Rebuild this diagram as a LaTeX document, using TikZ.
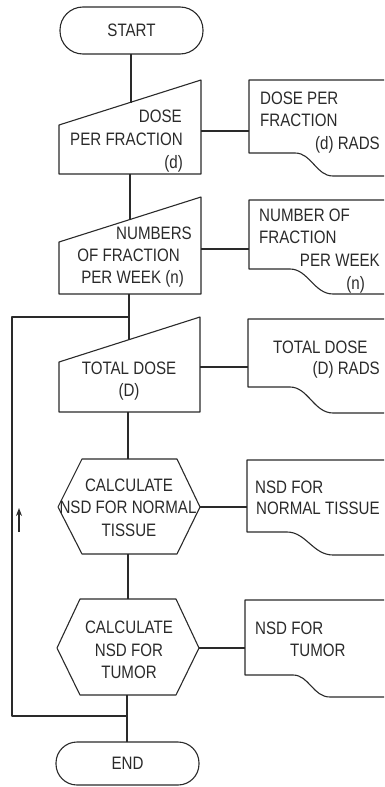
\documentclass[tikz,border=0pt]{standalone}
\usepackage{fontspec}
\setmainfont{Liberation Sans}[FakeStretch=0.84]
\usetikzlibrary{arrows.meta}
\definecolor{ink}{HTML}{2A2A2A}
\begin{document}
\begin{tikzpicture}[x=1pt,y=-1pt,
  ln/.style={line width=1.1pt, draw=ink, line join=round},
  txt/.style={font=\fontsize{18}{23}\selectfont, text=ink, inner sep=0pt},
  term/.style={ln, txt, rectangle, inner sep=0pt}]
\useasboundingbox (0,0) rectangle (384,787);

% terminators
\node[term, minimum width=143pt, minimum height=47pt, rounded corners=23pt] (start) at (131.5,30.5) {START};
\node[term, minimum width=143pt, minimum height=43pt, rounded corners=21pt] (end) at (127.5,763.5) {END};

% manual input shapes
\draw[ln] (59,125) -- (201,80) -- (201,174) -- (59,174) -- cycle;
\draw[ln] (59,242) -- (201,197) -- (201,294) -- (59,294) -- cycle;
\draw[ln] (59,362) -- (200,317) -- (200,412) -- (59,412) -- cycle;

% hexagons
\draw[ln] (58,507) -- (82,459) -- (177,459) -- (200,507) coordinate (h1r) -- (177,554) -- (82,554) -- cycle;
\draw[ln] (57,648) -- (80,599) -- (176,599) -- (199,648) coordinate (h2r) -- (176,695) -- (80,695) -- cycle;

% documents (right edge cut off)
\draw[ln] (384,80) -- (249,80) -- (249,153) -- (295,153) .. controls (312,153) and (316,176) .. (333,176) -- (384,176);
\draw[ln] (384,200) -- (249,200) -- (249,269) -- (290,269) .. controls (308,269) and (314,294) .. (333,294) -- (384,294);
\draw[ln] (384,319) -- (248,319) -- (248,387) -- (290,387) .. controls (308,387) and (314,413) .. (333,413) -- (384,413);
\draw[ln] (384,460) -- (247,460) -- (247,532) -- (287,532) .. controls (306,532) and (313,555) .. (333,555) -- (384,555);
\draw[ln] (384,600) -- (245,600) -- (245,675) -- (293,675) .. controls (309,675) and (313,697) .. (330,697) -- (384,697);

% connection points
\coordinate (s1) at (131,54);   \coordinate (t1top) at (131,102.5);
\coordinate (t1b) at (130,174); \coordinate (t2top) at (130,219.5);
\coordinate (t2b) at (129,294); \coordinate (t3top) at (129,339.5);
\coordinate (t3b) at (128,412); \coordinate (h1t) at (128,459);
\coordinate (h1b) at (128,554); \coordinate (h2t) at (128,599);
\coordinate (h2b) at (127,695); \coordinate (e1) at (127,742);
\coordinate (loopA) at (129,317); \coordinate (loopB) at (12,317);
\coordinate (loopC) at (12,716); \coordinate (loopD) at (127,716);
\coordinate (t1r) at (201,131) ; \coordinate (d1l) at (249,131);
\coordinate (t2r) at (201,249) ; \coordinate (d2l) at (249,249);
\coordinate (t3r) at (200,367) ; \coordinate (d3l) at (248,367);
\coordinate (d4l) at (247,507);
\coordinate (d5l) at (245,648);
\coordinate (arrA) at (19,532); \coordinate (arrB) at (19,508);

% vertical flow
\draw[ln] (s1) -- (t1top);
\draw[ln] (t1b) -- (t2top);
\draw[ln] (t2b) -- (t3top);
\draw[ln] (t3b) -- (h1t);
\draw[ln] (h1b) -- (h2t);
\draw[ln] (h2b) -- (e1);
% loop
\draw[ln] (loopD) -- (loopC) -- (loopB) -- (loopA);
\draw[ln, line width=1.3pt, -{Stealth[length=8pt,width=6pt]}] (arrA) -- (arrB);
% horizontal connectors
\draw[ln] (t1r) -- (d1l);
\draw[ln] (t2r) -- (d2l);
\draw[ln] (t3r) -- (d3l);
\draw[ln] (h1r) -- (d4l);
\draw[ln] (h2r) -- (d5l);

% texts: manual input 1
\node[txt, anchor=base east] (a1) at (182,122) {DOSE};
\node[txt, anchor=base east] (a2) at (183,145) {PER FRACTION};
\node[txt, anchor=base east] (a3) at (183,168) {(d)};
\node[txt, anchor=base west] (b1) at (260,104.5) {DOSE PER};
\node[txt, anchor=base west] (b2) at (260,126.5) {FRACTION};
\node[txt, anchor=base east] (b3) at (380,149.5) {(d) RADS};
% manual input 2
\node[txt, anchor=base east] (c1) at (192,239.5) {NUMBERS};
\node[txt, anchor=base east] (c2) at (180,261.5) {OF FRACTION};
\node[txt, anchor=base east] (c3) at (184,283.5) {PER WEEK (n)};
\node[txt, anchor=base west] (e1t) at (259,221.5) {NUMBER OF};
\node[txt, anchor=base west] (e2t) at (259,243.5) {FRACTION};
\node[txt, anchor=base east] (e3t) at (380,266.5) {PER WEEK};
\node[txt, anchor=base east] (e4t) at (365,289.5) {(n)};
% manual input 3
\node[txt, anchor=base] (f1) at (129,374.5) {TOTAL DOSE};
\node[txt, anchor=base] (f2) at (129,396.5) {(D)};
\node[txt, anchor=base west] (g1) at (273,353.5) {TOTAL DOSE};
\node[txt, anchor=base east] (g2) at (380,374.5) {(D) RADS};
% hexagon 1
\node[txt, anchor=base] (h1a) at (129,491.5) {CALCULATE};
\node[txt, anchor=base] (h1bt) at (128,513.5) {NSD FOR NORMAL};
\node[txt, anchor=base] (h1c) at (129,536.5) {TISSUE};
\node[txt, anchor=base west] (i1) at (255,493.5) {NSD FOR};
\node[txt, anchor=base west] (i2) at (256,514.5) {NORMAL TISSUE};
% hexagon 2
\node[txt, anchor=base] (h2a) at (129,633.5) {CALCULATE};
\node[txt, anchor=base] (h2bt) at (129,656.5) {NSD FOR};
\node[txt, anchor=base] (h2c) at (129,678.5) {TUMOR};
\node[txt, anchor=base west] (j1) at (255,634.5) {NSD FOR};
\node[txt, anchor=base west] (j2) at (290,656.5) {TUMOR};
\end{tikzpicture}
\end{document}
